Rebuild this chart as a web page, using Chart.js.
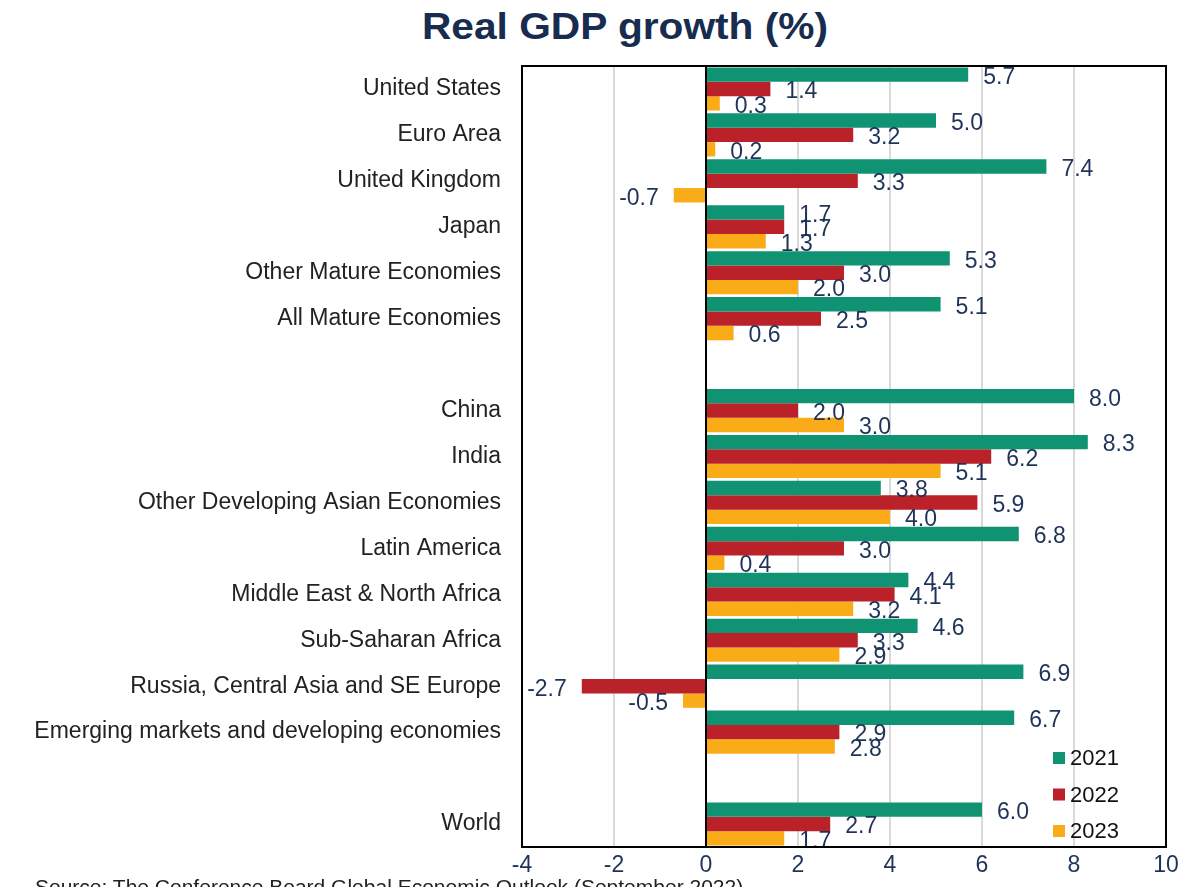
<!DOCTYPE html>
<html lang="en">
<head>
    <meta charset="UTF-8">
    <title>Real GDP growth (%)</title>
    <script src="https://cdn.jsdelivr.net/npm/chart.js"></script>
    <style>
        body { margin: 0; width: 1203px; height: 887px; overflow: hidden; background: #fff; position: relative; font-family: "Liberation Sans", Arial, sans-serif; }
        #title { position: absolute; left: 0; top: 3px; width: 1250px; text-align: center; font-size: 36px; line-height: 48px; font-weight: bold; color: #172c4f; transform: scaleX(1.13); transform-origin: 625px 0; }
        #source { position: absolute; left: 35px; top: 877px; font-size: 20px; line-height: 20px; color: #222; white-space: nowrap; transform: scaleX(1.05); transform-origin: 0 0; }
        canvas { position: absolute; left: 0; top: 0; }
    </style>
</head>
<body>
    <div id="title">Real GDP growth (%)</div>
    <canvas id="gdpChart" width="1203" height="887"></canvas>
    <div id="source">Source: The Conference Board Global Economic Outlook (September 2022)</div>
    <script>
        // regions, blank entries are spacer rows
        const regions = [
            'United States', 'Euro Area', 'United Kingdom', 'Japan', 'Other Mature Economies', 'All Mature Economies',
            '',
            'China', 'India', 'Other Developing Asian Economies', 'Latin America', 'Middle East & North Africa',
            'Sub-Saharan Africa', 'Russia, Central Asia and SE Europe', 'Emerging markets and developing economies',
            '',
            'World'
        ];
        const growth2021 = [5.7, 5.0, 7.4, 1.7, 5.3, 5.1, null, 8.0, 8.3, 3.8, 6.8, 4.4, 4.6, 6.9, 6.7, null, 6.0];
        const growth2022 = [1.4, 3.2, 3.3, 1.7, 3.0, 2.5, null, 2.0, 6.2, 5.9, 3.0, 4.1, 3.3, -2.7, 2.9, null, 2.7];
        const growth2023 = [0.3, 0.2, -0.7, 1.3, 2.0, 0.6, null, 3.0, 5.1, 4.0, 0.4, 3.2, 2.9, -0.5, 2.8, null, 1.7];
        const years = ['2021', '2022', '2023'];
        const xTicks = [-4, -2, 0, 2, 4, 6, 8, 10];

        const colors = ['#109373', '#bb2129', '#faac18'];
        const navy = '#1f3358';
        const font = '"Liberation Sans", Arial, sans-serif';

        // value labels next to bar ends
        const valueLabels = {
            id: 'valueLabels',
            afterDatasetsDraw(chart) {
                const ctx = chart.ctx;
                ctx.save();
                ctx.font = '23px ' + font;
                ctx.fillStyle = navy;
                ctx.textBaseline = 'middle';
                chart.data.datasets.forEach((ds, i) => {
                    chart.getDatasetMeta(i).data.forEach((bar, j) => {
                        const v = ds.data[j];
                        if (v === null) return;
                        ctx.textAlign = v < 0 ? 'right' : 'left';
                        ctx.fillText(v.toFixed(1), bar.x + (v < 0 ? -15 : 15), bar.y + 3);
                    });
                });
                ctx.restore();
            }
        };

        // black frame, zero line and the legend inside the plot
        const frame = {
            id: 'frame',
            afterDatasetsDraw(chart) {
                const { ctx, chartArea: a } = chart;
                const x0 = chart.scales.x.getPixelForValue(0);
                ctx.save();
                ctx.strokeStyle = '#000';
                ctx.lineWidth = 2;
                ctx.strokeRect(a.left, a.top, a.right - a.left, a.bottom - a.top);
                ctx.beginPath();
                ctx.moveTo(x0, a.top);
                ctx.lineTo(x0, a.bottom);
                ctx.stroke();

                ctx.font = '22px ' + font;
                ctx.textBaseline = 'middle';
                ctx.textAlign = 'left';
                chart.data.datasets.forEach((ds, i) => {
                    const y = a.bottom - 89 + i * 36.5;
                    ctx.fillStyle = ds.backgroundColor;
                    ctx.fillRect(a.right - 113, y - 6, 12, 12);
                    ctx.fillStyle = '#111';
                    ctx.fillText(ds.label, a.right - 96, y + 1);
                });
                ctx.restore();
            }
        };

        const ctx = document.getElementById('gdpChart').getContext('2d');
        new Chart(ctx, {
            type: 'bar',
            data: {
                labels: regions,
                datasets: [growth2021, growth2022, growth2023].map((d, i) => ({
                    label: years[i],
                    data: d,
                    backgroundColor: colors[i],
                    borderWidth: 0,
                    categoryPercentage: 0.94,
                    barPercentage: 1.0
                }))
            },
            options: {
                indexAxis: 'y',
                responsive: false,
                animation: false,
                layout: { padding: { top: 66, right: 37, left: 0, bottom: 0 } },
                scales: {
                    x: {
                        min: xTicks[0],
                        max: xTicks[xTicks.length - 1],
                        afterBuildTicks: s => { s.ticks = xTicks.map(v => ({ value: v })); },
                        afterFit: s => { s.height = 40; },
                        grid: { color: '#d9d9d9', lineWidth: 2, drawTicks: false },
                        border: { display: false },
                        ticks: { autoSkip: false, padding: 5, color: navy, font: { family: font, size: 23 } }
                    },
                    y: {
                        afterFit: s => { s.width = 522; },
                        grid: { display: false, drawTicks: false },
                        border: { display: false },
                        ticks: { autoSkip: false, padding: 21, color: '#222', font: { family: font, size: 23 } }
                    }
                },
                plugins: {
                    legend: { display: false },
                    title: { display: false },
                    tooltip: { enabled: false }
                }
            },
            plugins: [valueLabels, frame]
        });
    </script>
</body>
</html>
